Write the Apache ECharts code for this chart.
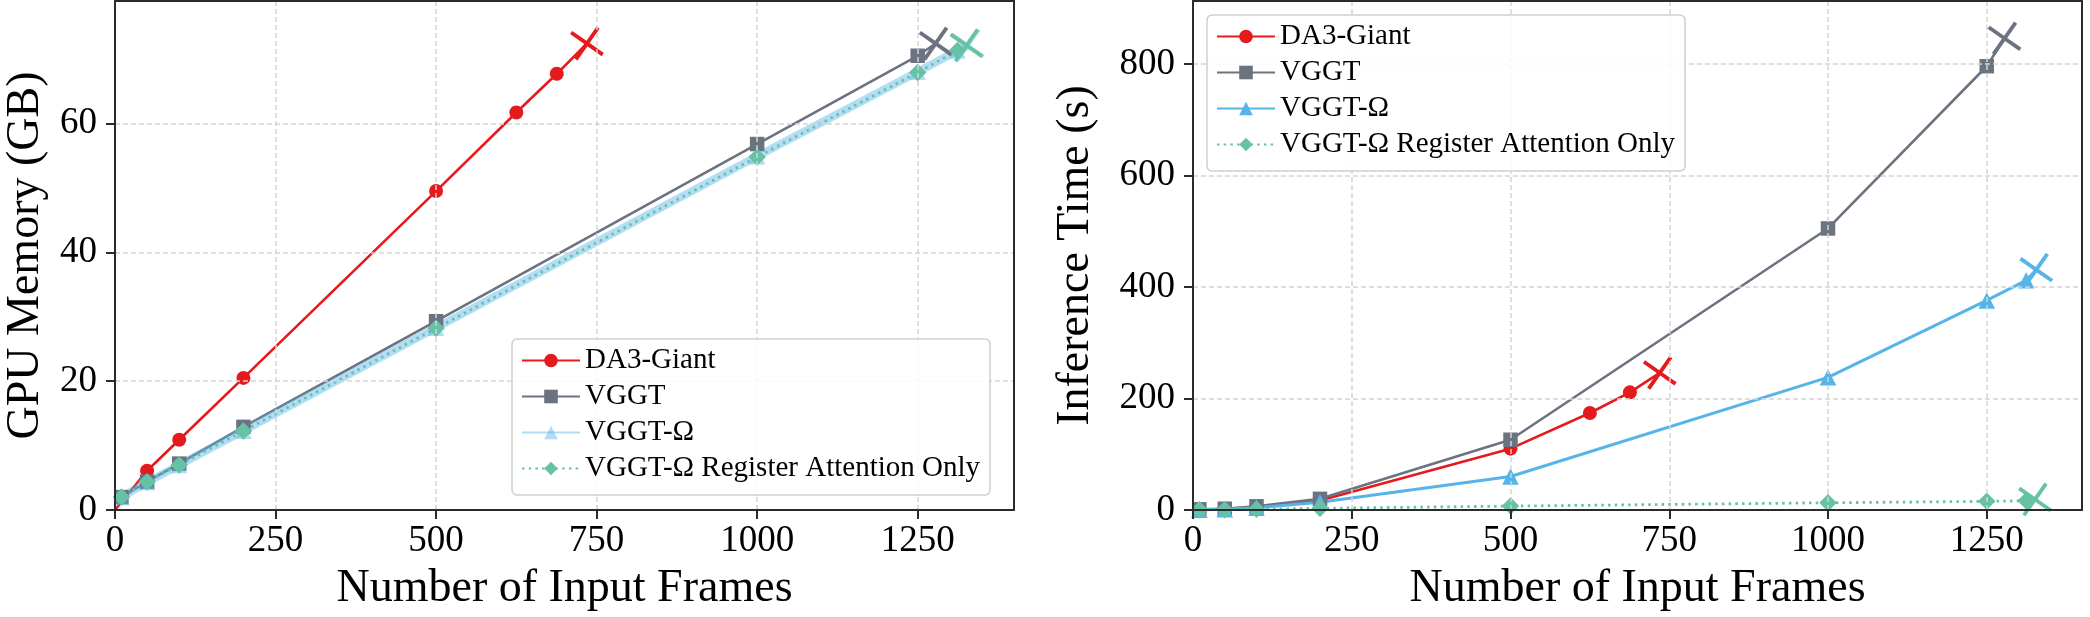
<!DOCTYPE html>
<html>
<head>
<meta charset="utf-8">
<script src="https://cdn.jsdelivr.net/npm/echarts@6/dist/echarts.min.js"></script>
<style>
html,body{margin:0;padding:0;background:#ffffff;}
#chart{width:2090px;height:617px;}
</style>
</head>
<body>
<div id="chart"></div>
<script>
// ---------- data ----------
const seriesNames = ['DA3-Giant', 'VGGT', 'VGGT-Ω', 'VGGT-Ω Register Attention Only'];
// right panel: VGGT-Ω needs its own key so its legend icon keeps the normal style
const rightKeys = ['DA3-Giant', 'VGGT', 'VGGT-Ω (time)', 'VGGT-Ω Register Attention Only'];
const xTicks = [0, 250, 500, 750, 1000, 1250];
const memTicks = [0, 20, 40, 60];
const timeTicks = [0, 200, 400, 600, 800];

// DA3-Giant (line starts at the origin)
const da3Frames = [0, 50, 100, 200, 500, 625, 688];
const da3Mem    = [0, 6.1, 10.9, 20.5, 49.5, 61.7, 67.7];
const da3Time   = [0, 2, 5, 17, 110, 174, 211];
const da3Oom    = { frames: 735, mem: 72.4, time: 246 };

// VGGT
const vggtFrames = [10, 50, 100, 200, 500, 1000, 1250];
const vggtMem    = [2.0, 4.4, 7.2, 12.9, 29.3, 56.8, 70.5];
const vggtTime   = [1.2, 2.3, 6.6, 20, 126, 505, 796];
const vggtOom    = { frames: 1278, mem: 72.4, time: 846 };

// VGGT-Ω
const omegaFrames = [10, 50, 100, 200, 500, 1000, 1250, 1312];
const omegaMem    = [2.0, 4.3, 7.0, 12.3, 28.3, 54.9, 68.0, 71.3];
const omegaTime   = [0.6, 1.5, 4, 14, 60, 238, 376, 412];
const omegaOom    = { frames: 1328, mem: 72.1, time: 431 };

// VGGT-Ω Register Attention Only
const regFrames = [10, 50, 100, 200, 500, 1000, 1250, 1312];
const regMem    = [2.0, 4.4, 7.0, 12.25, 28.2, 54.8, 67.9, 71.3];
const regTime   = [0.4, 0.6, 1.2, 3, 7, 13, 15.5, 16.5];
const regOom    = { frames: 1326, mem: 72.1, time: 19 };

// ---------- styling ----------
const FONT = "'Liberation Serif', 'Times New Roman', serif";
const colors = ['#e41a1c', '#6b7280', '#56b4e9', '#66c2a5'];
const XPATH = 'path://M0,9L9,0L50,41L91,0L100,9L59,50L100,91L91,100L50,59L9,100L0,91L41,50Z';
const FRAME = '#2b2b2b';

function buildData(xs, ys, oomX, oomY) {
  const d = xs.map((x, i) => ({ value: [x, ys[i]] }));
  d.push({ value: [oomX, oomY], symbol: XPATH, symbolSize: 30, symbolRotate: 10 });
  return d;
}
function mkSeries(idx, name, xs, ys, oomX, oomY, gi, opts) {
  const data = buildData(xs, ys, oomX, oomY);
  if (idx === 0) { data[0].symbol = 'none'; }
  const sym = ['circle', 'rect', 'triangle', 'diamond'][idx];
  const size = [14, 14.5, 16.5, 17.5][idx];
  return Object.assign({
    name: name, type: 'line', xAxisIndex: gi, yAxisIndex: gi, data: data,
    symbol: sym, symbolSize: size, showAllSymbol: true, animation: false, color: colors[idx],
    lineStyle: { color: colors[idx], width: 2.6 }, itemStyle: { color: colors[idx] },
    emphasis: { disabled: true }
  }, opts || {});
}
const series = [
  // left panel: GPU memory
  mkSeries(0, seriesNames[0], da3Frames, da3Mem, da3Oom.frames, da3Oom.mem, 0),
  mkSeries(1, seriesNames[1], vggtFrames, vggtMem, vggtOom.frames, vggtOom.mem, 0),
  mkSeries(2, seriesNames[2], omegaFrames, omegaMem, omegaOom.frames, omegaOom.mem, 0, {
    lineStyle: { color: colors[2], width: 8, opacity: 0.45 }, itemStyle: { color: colors[2], opacity: 0.45 } }),
  mkSeries(3, seriesNames[3], regFrames, regMem, regOom.frames, regOom.mem, 0, {
    lineStyle: { color: colors[3], width: 2.8, type: [2.5, 4.2] } }),
  // right panel: inference time
  mkSeries(0, rightKeys[0], da3Frames, da3Time, da3Oom.frames, da3Oom.time, 1),
  mkSeries(1, rightKeys[1], vggtFrames, vggtTime, vggtOom.frames, vggtOom.time, 1),
  mkSeries(2, rightKeys[2], omegaFrames, omegaTime, omegaOom.frames, omegaOom.time, 1, {
    lineStyle: { color: colors[2], width: 3 } }),
  mkSeries(3, rightKeys[3], regFrames, regTime, regOom.frames, regOom.time, 1, {
    lineStyle: { color: colors[3], width: 2.8, type: [2.5, 4.2] } })
];

const splitLineCfg = { show: true, showMinLine: false, showMaxLine: false, lineStyle: { color: '#d3d3d3', width: 1.5, type: [5, 3] } };
function xAxisCfg(gi) {
  return {
    type: 'value', gridIndex: gi, min: 0, max: 1400, interval: 250, position: 'bottom',
    name: 'Number of Input Frames', nameLocation: 'middle', nameGap: 56,
    nameTextStyle: { fontFamily: FONT, fontSize: 46, color: '#000' },
    axisLine: { show: true, onZero: false, lineStyle: { color: FRAME, width: 2 } },
    axisTick: { show: true, inside: false, length: 9, lineStyle: { color: FRAME, width: 2 } },
    axisLabel: { show: true, margin: 13, fontFamily: FONT, fontSize: 37, color: '#000', showMaxLabel: false,
      formatter: v => (xTicks.indexOf(v) >= 0 ? String(v) : '') },
    splitLine: splitLineCfg, z: 5
  };
}
function frameXAxis(gi) {
  return { type: 'value', gridIndex: gi, min: 0, max: 1400, position: 'top',
    axisLine: { show: true, onZero: false, lineStyle: { color: FRAME, width: 2 } },
    axisTick: { show: false }, axisLabel: { show: false }, splitLine: { show: false }, z: 5 };
}
function yAxisCfg(gi, name, max, interval, ticks, gap) {
  return {
    type: 'value', gridIndex: gi, min: 0, max: max, interval: interval, position: 'left',
    name: name, nameLocation: 'middle', nameGap: gap, nameRotate: 90,
    nameTextStyle: { fontFamily: FONT, fontSize: 46, color: '#000' },
    axisLine: { show: true, onZero: false, lineStyle: { color: FRAME, width: 2 } },
    axisTick: { show: true, inside: false, length: 9, lineStyle: { color: FRAME, width: 2 } },
    axisLabel: { show: true, margin: 18, fontFamily: FONT, fontSize: 37, color: '#000', showMaxLabel: false,
      formatter: v => (ticks.indexOf(v) >= 0 ? String(v) : '') },
    splitLine: splitLineCfg, z: 5
  };
}
function frameYAxis(gi, max) {
  return { type: 'value', gridIndex: gi, min: 0, max: max, position: 'right',
    axisLine: { show: true, onZero: false, lineStyle: { color: FRAME, width: 2 } },
    axisTick: { show: false }, axisLabel: { show: false }, splitLine: { show: false }, z: 5 };
}
function legendCfg(left, top, keys, useFormatter) {
  const cfg = {
    show: true, orient: 'vertical', left: left, top: top,
    itemWidth: 58, itemHeight: 17, itemGap: 7,
    padding: [7, 10, 12, 9],
    backgroundColor: 'rgba(255,255,255,0.85)',
    borderColor: '#cfcfcf', borderWidth: 1.5, borderRadius: 5,
    selectedMode: false,
    textStyle: { fontFamily: FONT, fontSize: 29, color: '#000' },
    data: keys.slice(),
    z: 10
  };
  if (useFormatter) cfg.formatter = name => seriesNames[keys.indexOf(name)];
  return cfg;
}

const option = {
  backgroundColor: '#ffffff',
  animation: false,
  grid: [
    { left: 115, top: 1, width: 899, height: 509, show: false },
    { left: 1193, top: 1, width: 889, height: 509, show: false }
  ],
  xAxis: [xAxisCfg(0), xAxisCfg(1), frameXAxis(0), frameXAxis(1)],
  yAxis: [
    yAxisCfg(0, 'GPU Memory (GB)', 79, 20, memTicks, 66),
    yAxisCfg(1, 'Inference Time (s)', 913, 200, timeTicks, 94),
    frameYAxis(0, 79), frameYAxis(1, 913)
  ],
  legend: [legendCfg(512, 339, seriesNames, false), legendCfg(1207, 15, rightKeys, true)],
  series: series
};
const chart = echarts.init(document.getElementById('chart'), null, { renderer: 'canvas' });
chart.setOption(option);
</script>
</body>
</html>
